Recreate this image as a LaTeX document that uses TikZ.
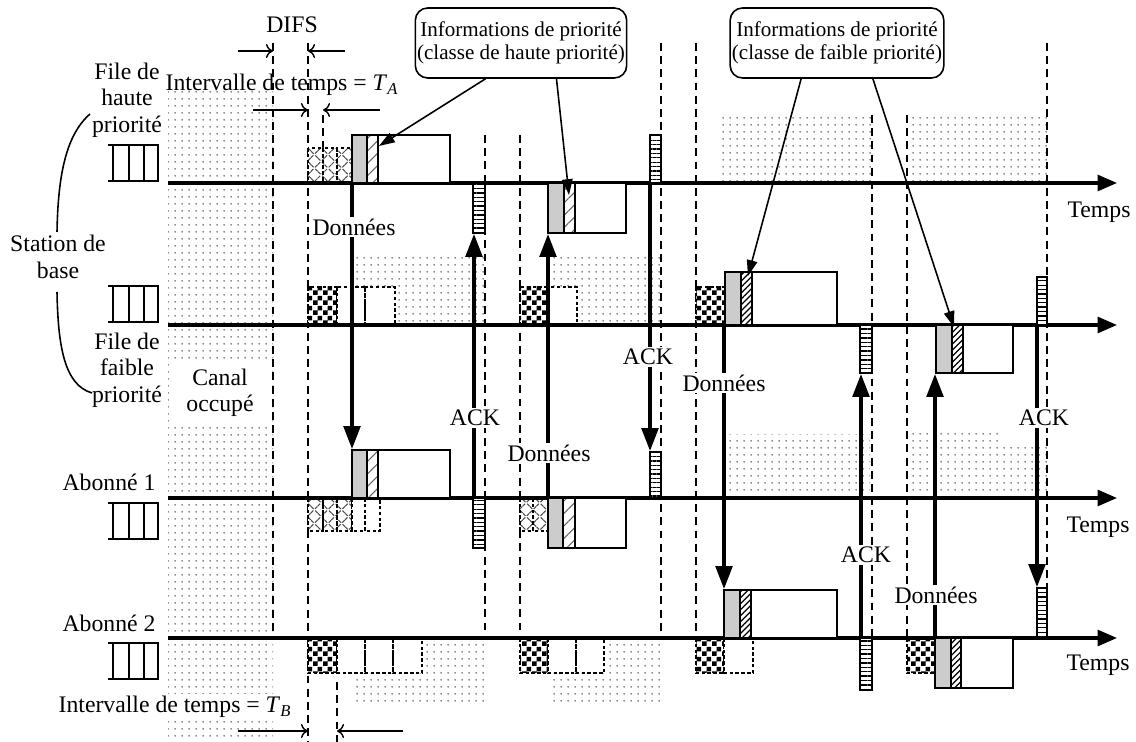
\documentclass[tikz,border=0pt]{standalone}
\usepackage{fontspec}
\setmainfont{Liberation Serif}
\usetikzlibrary{calc, arrows.meta, positioning, patterns.meta}

\pgfdeclarepatternformonly{damier}{\pgfpointorigin}{\pgfqpoint{5.4pt}{5.4pt}}{\pgfqpoint{5.4pt}{5.4pt}}{%
  \pgfpathrectangle{\pgfpointorigin}{\pgfqpoint{2.7pt}{2.7pt}}%
  \pgfpathrectangle{\pgfqpoint{2.7pt}{2.7pt}}{\pgfqpoint{2.7pt}{2.7pt}}%
  \pgfusepath{fill}}

% une trame : entete grise, champ de priorite hachure, corps blanc
\newcommand{\trame}[7]{%
  \draw[corps] (#3,#5) rectangle (#4,#6);
  \draw[entete] (#1,#5) rectangle (#2,#6);
  \draw[#7] (#2,#5) rectangle (#3,#6);}

\tikzset{
  fileq/.pic={
    \draw[line width=1.3pt] (0,0) -- (51,0) (0,36) -- (51,36);
    \draw[line width=1.1pt] (5,0) -- (5,36) (21,0) -- (21,36) (36,0) -- (36,36) (50,0) -- (50,36);
  }
}

\begin{document}
\begin{tikzpicture}[
        x=0.02cm, y=-0.02cm,
        font=\fontsize{13.5}{15}\selectfont,
        axe/.style={line width=1.8pt, -{Triangle[length=11pt,width=9pt]}},
        repere/.style={line width=1.2pt, dash pattern=on 4.5pt off 3pt},
        occupe/.style={pattern={Dots[radius=0.6pt,distance=4pt]}, pattern color=black!60},
        slot/.style={draw, line width=0.75pt, dash pattern=on 2pt off 1.3pt, preaction={fill=white}},
        croix/.style={slot, pattern={Hatch[angle=45,distance=5.5pt,line width=0.6pt]}, pattern color=black!70},
        chk/.style={slot, pattern=damier},
        ackbox/.style={draw, line width=0.9pt, preaction={fill=white}, pattern={Lines[angle=0,distance=2.5pt,line width=0.75pt]}},
        entete/.style={draw, line width=0.8pt, fill=gray!40},
        hachA/.style={draw, line width=0.8pt, preaction={fill=white}, pattern={Lines[angle=45,distance=5pt,line width=0.6pt]}, pattern color=black!60},
        hachB/.style={draw, line width=0.8pt, preaction={fill=white}, pattern={Lines[angle=45,distance=2.4pt,line width=0.7pt]}},
        corps/.style={draw, line width=0.8pt, fill=white},
        msg/.style={line width=1.8pt, -{Triangle[length=13pt,width=9.5pt]}},
        pointer/.style={line width=0.9pt, -{Triangle[length=9pt,width=6pt]}},
        cote/.style={line width=0.8pt, -{To[length=4pt,width=8pt]}},
        lbl/.style={fill=white, inner sep=1pt},
        info/.style={draw, rounded corners=7pt, line width=0.9pt, align=center, fill=white,
            minimum width=4.22cm, minimum height=1.4cm, inner xsep=1pt, font=\fontsize{12}{13}\selectfont}
    ]
    \useasboundingbox (0,0) rectangle (1136,742);

    % zones de canal occupe
    \fill[occupe] (168,92) rectangle (273,738);
    \fill[occupe] (353,258) rectangle (485,325);
    \fill[occupe] (545,258) rectangle (660,325);
    \fill[occupe] (720,115) rectangle (872,183);
    \fill[occupe] (907,115) rectangle (1047,183);
    \fill[occupe] (725,435) rectangle (870,498);
    \fill[occupe] (907,433) -- (998,433) -- (998,445) -- (1047,445) -- (1047,498) -- (907,498) -- cycle;
    \fill[occupe] (353,640) rectangle (485,707);
    \fill[occupe] (548,640) rectangle (661,707);
    \fill[white] (173,362) rectangle (268,425);

    % reperes verticaux
    \draw[repere] (273,43) -- (273,638);
    \draw[repere] (308,43) -- (308,742);
    \draw[repere] (323,115) -- (323,148);
    \draw[repere] (337,682) -- (337,742);
    \draw[repere] (485,135) -- (485,638);
    \draw[repere] (520,135) -- (520,638);
    \draw[repere] (661,43) -- (661,638);
    \draw[repere] (696,43) -- (696,638);
    \draw[repere] (872,115) -- (872,638);
    \draw[repere] (907,115) -- (907,638);
    \draw[repere] (1047,43) -- (1047,638);

    % intervalles d'attente
    \draw[croix] (308,148) rectangle (323,183) (323,148) rectangle (337,183) (337,148) rectangle (352,183);
    \draw[chk] (308,287) rectangle (337,325);
    \draw[slot] (337,287) rectangle (365,325) (365,287) rectangle (395,325);
    \draw[chk] (520,287) rectangle (548,325);
    \draw[slot] (548,287) rectangle (577,325);
    \draw[chk] (696,287) rectangle (725,325);
    \draw[croix] (308,498) rectangle (323,531) (323,498) rectangle (337,531) (337,498) rectangle (352,531);
    \draw[slot] (352,498) rectangle (365,531) (365,498) rectangle (380,531);
    \draw[croix] (520,498) rectangle (533,531) (533,498) rectangle (548,531);
    \draw[chk] (308,638) rectangle (337,673);
    \draw[slot] (337,638) rectangle (365,673) (365,638) rectangle (393,673) (393,638) rectangle (422,673);
    \draw[chk] (520,638) rectangle (548,673);
    \draw[slot] (548,638) rectangle (576,673) (576,638) rectangle (604,673);
    \draw[chk] (696,638) rectangle (724,673);
    \draw[slot] (724,638) rectangle (753,673);
    \draw[chk] (907,638) rectangle (935,673);

    % axes du temps
    \draw[axe] (168,183) coordinate (t1) -- (1117,183) coordinate (t1e);
    \draw[axe] (168,325) coordinate (t2) -- (1117,325) coordinate (t2e);
    \draw[axe] (168,498) coordinate (t3) -- (1117,498) coordinate (t3e);
    \draw[axe] (168,638) coordinate (t4) -- (1117,638) coordinate (t4e);

    % trames de donnees
    \trame{352}{367}{378}{450}{135}{183}{hachA}
    \trame{352}{367}{378}{450}{450}{498}{hachA}
    \trame{548}{564}{575}{626}{183}{233}{hachA}
    \trame{548}{563}{575}{626}{498}{548}{hachA}
    \trame{725}{741}{752}{837}{272}{325}{hachB}
    \trame{724}{740}{751}{837}{590}{638}{hachB}
    \trame{936}{952}{963}{1013}{325}{373}{hachB}
    \trame{935}{951}{961}{1013}{638}{688}{hachB}

    % trames ACK
    \draw[ackbox] (473,183) rectangle (485,233);
    \draw[ackbox] (473,498) rectangle (485,548);
    \draw[ackbox] (650,135) rectangle (661,183);
    \draw[ackbox] (650,452) rectangle (661,498);
    \draw[ackbox] (860,325) rectangle (872,373);
    \draw[ackbox] (860,638) rectangle (872,690);
    \draw[ackbox] (1037,277) rectangle (1047,325);
    \draw[ackbox] (1037,588) rectangle (1047,638);

    % extremites des echanges
    \coordinate (d1a) at (352,183);  \coordinate (d1b) at (352,449);
    \coordinate (k1a) at (474,498);  \coordinate (k1b) at (474,234);
    \coordinate (d2a) at (548,498);  \coordinate (d2b) at (548,234);
    \coordinate (k2a) at (650,183);  \coordinate (k2b) at (650,451);
    \coordinate (d3a) at (724,325);  \coordinate (d3b) at (724,589);
    \coordinate (k3a) at (861,638);  \coordinate (k3b) at (861,374);
    \coordinate (d4a) at (935,638);  \coordinate (d4b) at (935,374);
    \coordinate (k4a) at (1037,325); \coordinate (k4b) at (1037,587);

    \draw[msg] (d1a) -- (d1b);
    \draw[msg] (k1a) -- (k1b);
    \draw[msg] (d2a) -- (d2b);
    \draw[msg] (k2a) -- (k2b);
    \draw[msg] (d3a) -- (d3b);
    \draw[msg] (k3a) -- (k3b);
    \draw[msg] (d4a) -- (d4b);
    \draw[msg] (k4a) -- (k4b);

    \node[lbl] (don1) at (354,227) {Données};
    \node[lbl] (ack1) at (475,418) {ACK};
    \node[lbl] (don2) at (549,453) {Données};
    \node[lbl] (ack2) at (648,357) {ACK};
    \node[lbl] (don3) at (724,383) {Données};
    \node[lbl] (ack3) at (866,555) {ACK};
    \node[lbl] (don4) at (936,595) {Données};
    \node[lbl] (ack4) at (1044,418) {ACK};

    % informations de priorite
    \node[info] (infoA) at (521,43) {Informations de priorité\\(classe de haute priorité)};
    \node[info] (infoB) at (837,43) {Informations de priorité\\(classe de faible priorité)};
    \coordinate (pA1) at (379,146);
    \coordinate (pA2) at (569,195);
    \coordinate (pB1) at (748,276);
    \coordinate (pB2) at (954,327);
    \draw[pointer] ($(infoA.south west)!1/3!(infoA.south east)$) -- (pA1);
    \draw[pointer] ($(infoA.south west)!2/3!(infoA.south east)$) -- (pA2);
    \draw[pointer] ($(infoB.south west)!1/3!(infoB.south east)$) -- (pB1);
    \draw[pointer] ($(infoB.south west)!2/3!(infoB.south east)$) -- (pB2);

    % DIFS et intervalles
    \node (difs) at (292,25) {DIFS};
    \coordinate (c1) at (238,51);  \coordinate (c2) at (273,51);
    \coordinate (c3) at (345,51);  \coordinate (c4) at (308,51);
    \draw[cote] (c1) -- (c2);
    \draw[cote] (c3) -- (c4);
    \node (intA) at (282,85) {Intervalle de temps = \textit{T}\textsubscript{\textit{A}}};
    \coordinate (c5) at (253,110); \coordinate (c6) at (308,110);
    \coordinate (c7) at (380,110); \coordinate (c8) at (323,110);
    \draw[cote] (c5) -- (c6);
    \draw[cote] (c7) -- (c8);
    \node[lbl] (intB) at (175,707) {Intervalle de temps = \textit{T}\textsubscript{\textit{B}}};
    \coordinate (c9) at (238,731);  \coordinate (c10) at (308,731);
    \coordinate (c11) at (403,731); \coordinate (c12) at (337,731);
    \draw[cote] (c9) -- (c10);
    \draw[cote] (c11) -- (c12);

    % stations et files
    \pic at (108,145) {fileq};
    \pic at (108,286) {fileq};
    \pic at (108,503) {fileq};
    \pic at (108,643) {fileq};
    \node[align=center] (fhaute) at (127,100) {File de\\haute\\priorité};
    \node[align=center] (station) at (58,257) {Station de\\base};
    \node[align=center] (ffaible) at (127,370) {File de\\faible\\priorité};
    \node (ab1) at (109,482) {Abonné 1};
    \node (ab2) at (109,623) {Abonné 2};
    \node[align=center] (canal) at (220,393) {Canal\\occupé};
    \draw[line width=0.9pt] (90,114) .. controls (66,135) and (58,175) .. (57,232);
    \draw[line width=0.9pt] (57,292) .. controls (58,345) and (64,385) .. (92,393);

    \node (temps1) at (1099,212) {Temps};
    \node (temps3) at (1098,527) {Temps};
    \node (temps4) at (1098,665) {Temps};
\end{tikzpicture}
\end{document}
